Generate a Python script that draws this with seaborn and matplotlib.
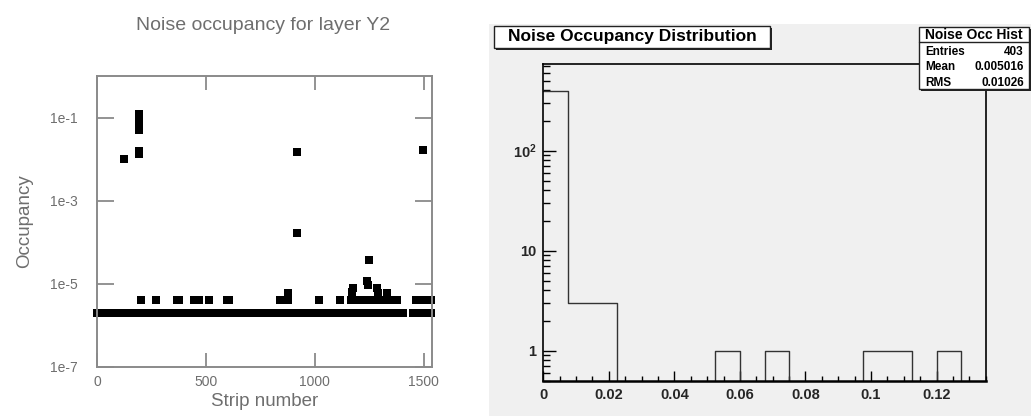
import numpy as np
import pandas as pd
import matplotlib
matplotlib.use("Agg")
import matplotlib.pyplot as plt
import seaborn as sns
from matplotlib.patches import Rectangle
from matplotlib.lines import Line2D
from matplotlib.ticker import FixedLocator, LogLocator, MultipleLocator, NullFormatter, FixedFormatter

# ---------------- data: left panel (noise occupancy per strip) ----------------
baseline_start = [0, 1449]
baseline_end = [1406, 1535]
baseline_occ = 2.0e-6

level2_strips = [200, 272, 365, 375, 445, 455, 470, 515, 598, 606, 838, 876, 1019, 1115,
                 1166, 1176, 1186, 1196, 1206, 1216, 1226, 1236, 1246, 1256, 1266, 1276,
                 1286, 1296, 1330, 1342, 1353, 1376, 1466, 1476, 1490, 1500, 1512, 1522, 1532]
level2_occ = 4.0e-6

hot_strips = [123, 192, 192, 192, 192, 192, 192, 193, 193, 920, 920, 1496,
              1250, 1238, 1246, 1176, 1170, 1284, 1292, 1330, 876]
hot_occ = [1.0e-2, 0.12, 0.10, 0.085, 0.07, 0.06, 0.05, 0.016, 0.013, 0.015, 1.7e-4, 0.017,
           3.7e-5, 1.2e-5, 9.4e-6, 8.0e-6, 6.5e-6, 8.0e-6, 6.0e-6, 6.0e-6, 6.0e-6]

left_title = "Noise occupancy for layer Y2"
left_xlabel = "Strip number"
left_ylabel = "Occupancy"
left_yticks = [1e-7, 1e-5, 1e-3, 1e-1]
left_yticklabels = ["1e-7", "1e-5", "1e-3", "1e-1"]
left_xticks = [0, 500, 1000, 1500]

# ---------------- data: right panel (histogram of occupancies) ----------------
hist_lo, hist_hi, hist_nbins = 0.0, 0.135, 18
hist_counts = [392, 3, 3, 0, 0, 0, 0, 1, 0, 1, 0, 0, 0, 1, 1, 0, 1, 0]
right_title = "Noise Occupancy Distribution"
stats_title = "Noise Occ Hist"
stats_labels = ["Entries", "Mean", "RMS"]
stats_values = ["403", "0.005016", "0.01026"]
right_xticks = [0, 0.02, 0.04, 0.06, 0.08, 0.1, 0.12]
right_xticklabels = ["0", "0.02", "0.04", "0.06", "0.08", "0.1", "0.12"]
right_yticks = [1, 10, 100]
right_yticklabels = ["1", "10", r"$\mathbf{10^{2}}$"]

# ---------------- build frames ----------------
strips_base = np.concatenate([np.arange(s, e + 1) for s, e in zip(baseline_start, baseline_end)])
df_left = pd.DataFrame({
    "strip": np.concatenate([strips_base, level2_strips, hot_strips]),
    "occ": np.concatenate([np.full(len(strips_base), baseline_occ),
                           np.full(len(level2_strips), level2_occ), hot_occ]),
})
edges = [float(e) for e in np.linspace(hist_lo, hist_hi, hist_nbins + 1)]
centers = [(a + b) / 2 for a, b in zip(edges[:-1], edges[1:])]
df_right = pd.DataFrame({"occ": centers, "n": [float(c) for c in hist_counts]})

sns.set_theme(style="white")
plt.rcParams["font.family"] = ["Liberation Sans", "DejaVu Sans"]
plt.rcParams["mathtext.fontset"] = "custom"
plt.rcParams["mathtext.bf"] = "Liberation Sans:bold"
plt.rcParams["mathtext.rm"] = "Liberation Sans"

W, H = 1031, 416
fig = plt.figure(figsize=(W / 100, H / 100), dpi=100)
fig.patch.set_facecolor("white")


def fx(x):
    return x / W


def fy(y):
    return 1 - y / H


# ---------------- left panel ----------------
gray_txt = "#6e6e6e"
gray_line = "#8a8a8a"
ax1 = fig.add_axes([fx(97), fy(367), fx(432) - fx(97), fy(76) - fy(367)])
sns.scatterplot(data=df_left, x="strip", y="occ", marker="s", s=28, color="black",
                linewidth=0, ax=ax1, clip_on=False, legend=False)
ax1.set_yscale("log")
ax1.set_ylim(1e-7, 1)
ax1.set_xlim(0, 1538)
ax1.yaxis.set_major_locator(FixedLocator(left_yticks))
ax1.yaxis.set_major_formatter(FixedFormatter(left_yticklabels))
ax1.yaxis.set_minor_locator(FixedLocator([]))
ax1.xaxis.set_major_locator(FixedLocator(left_xticks))
ax1.set_xlabel(left_xlabel, fontsize=13.5, color=gray_txt, labelpad=3)
ax1.set_ylabel(left_ylabel, fontsize=13.5, color=gray_txt, labelpad=12)
ax1.tick_params(axis="y", direction="in", length=12, width=1.3, color=gray_line,
                left=True, right=True, labelsize=10, labelcolor=gray_txt, pad=14)
ax1.tick_params(axis="x", direction="in", length=10, width=1.3, color=gray_line,
                bottom=True, top=True, labelsize=10, labelcolor=gray_txt, pad=6)
for sp in ax1.spines.values():
    sp.set_color(gray_line)
    sp.set_linewidth(1.4)
fig.text(fx(263), fy(25), left_title, ha="center", va="center", fontsize=14, color=gray_txt)

# ---------------- right panel ----------------
panel_bg = "#f0f0f0"
fig.add_artist(Rectangle((fx(489), 0), fx(W) - fx(489), fy(24), transform=fig.transFigure,
                         facecolor=panel_bg, edgecolor="none", zorder=0))
ax2 = fig.add_axes([fx(543.3), fy(380.7), fx(985.7) - fx(543.3), fy(64) - fy(380.7)])
ax2.set_facecolor(panel_bg)
sns.histplot(data=df_right, x="occ", weights="n", bins=edges, element="step", fill=False,
             color="#333333", linewidth=1.0, ax=ax2)
ax2.set_yscale("log")
ax2.set_xlim(hist_lo, hist_hi)
ax2.set_ylim(0.5, 736)
ax2.set_xlabel("")
ax2.set_ylabel("")
ax2.xaxis.set_major_locator(FixedLocator(right_xticks))
ax2.xaxis.set_major_formatter(FixedFormatter(right_xticklabels))
ax2.xaxis.set_minor_locator(MultipleLocator(0.005))
ax2.yaxis.set_major_locator(FixedLocator(right_yticks))
ax2.yaxis.set_major_formatter(FixedFormatter(right_yticklabels))
ax2.yaxis.set_minor_locator(LogLocator(base=10, subs=np.arange(2, 10)))
ax2.yaxis.set_minor_formatter(NullFormatter())
ax2.tick_params(axis="x", which="major", direction="in", length=7, width=1, color="black",
                bottom=True, top=False, labelsize=10.5, pad=5)
ax2.tick_params(axis="x", which="minor", direction="in", length=3.5, width=1, color="black",
                bottom=True, top=False)
ax2.tick_params(axis="y", which="major", direction="in", length=9.5, width=1, color="black",
                left=True, right=False, labelsize=10.5, pad=5)
ax2.tick_params(axis="y", which="minor", direction="in", length=5, width=1, color="black",
                left=True, right=False)
for lab in ax2.get_xticklabels() + ax2.get_yticklabels():
    lab.set_fontweight("bold")
for sp in ax2.spines.values():
    sp.set_color("black")
    sp.set_linewidth(1.2)
ax2.spines["bottom"].set_linewidth(1.8)

# title box with shadow
def shadow_box(x0, y0, x1, y1, z):
    fig.add_artist(Rectangle((fx(x0 + 2), fy(y1 + 2)), fx(x1) - fx(x0), fy(y0) - fy(y1),
                             transform=fig.transFigure, facecolor="#222222",
                             edgecolor="none", zorder=z))
    fig.add_artist(Rectangle((fx(x0), fy(y1)), fx(x1) - fx(x0), fy(y0) - fy(y1),
                             transform=fig.transFigure, facecolor="white",
                             edgecolor="#222222", linewidth=1.0, zorder=z + 1))

shadow_box(494, 26, 770, 47.5, 5)
fig.text(fx(632), fy(37), right_title, ha="center", va="center", fontsize=12.5,
         fontweight="bold", color="black", zorder=10)

shadow_box(919, 27, 1029, 88.5, 5)
fig.add_artist(Line2D([fx(919), fx(1029)], [fy(42.3), fy(42.3)], transform=fig.transFigure,
                      color="#222222", linewidth=1.0, zorder=8))
fig.text(fx(974), fy(35), stats_title, ha="center", va="center", fontsize=10,
         fontweight="bold", color="black", zorder=10)
for i, (lab, val) in enumerate(zip(stats_labels, stats_values)):
    yy = 52 + i * 15.5
    fig.text(fx(925), fy(yy), lab, ha="left", va="center", fontsize=8.5,
             fontweight="bold", color="black", zorder=10)
    fig.text(fx(1024), fy(yy), val, ha="right", va="center", fontsize=8.5,
             fontweight="bold", color="black", zorder=10)

fig.savefig("out.png", dpi=100)
